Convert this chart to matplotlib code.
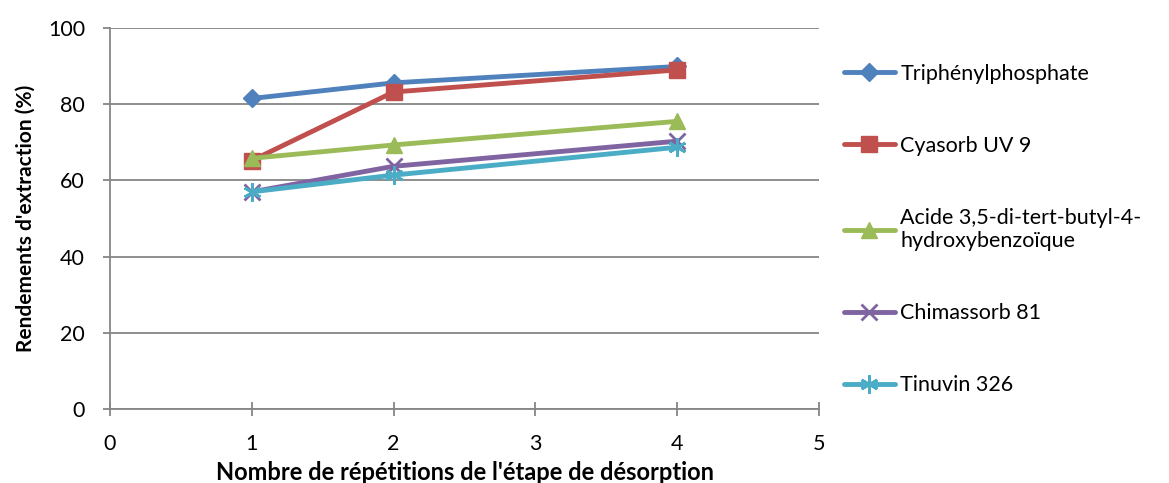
import matplotlib
matplotlib.use("Agg")
import matplotlib.pyplot as plt

plt.rcParams['font.family'] = ['Lato', 'DejaVu Sans']

repetitions = [1, 2, 4]
series_names = ["Triphénylphosphate", "Cyasorb UV 9",
                "Acide 3,5-di-tert-butyl-4-\nhydroxybenzoïque",
                "Chimassorb 81", "Tinuvin 326"]
triphenylphosphate = [81.5, 85.6, 89.9]
cyasorb = [65.2, 83.2, 89.0]
acide = [65.8, 69.3, 75.5]
chimassorb = [57.0, 63.7, 70.3]
tinuvin = [57.0, 61.4, 68.7]
x_ticks = [0, 1, 2, 3, 4, 5]
y_ticks = [0, 20, 40, 60, 80, 100]

values = [triphenylphosphate, cyasorb, acide, chimassorb, tinuvin]
colors = ['#4F81BD', '#C0504D', '#9BBB59', '#8064A2', '#4BACC6']
markers = ['D', 's', '^', 'x', (6, 2, 0)]
msizes = [9.5, 12, 12, 12, 13]
mews = [1, 1, 1, 2, 2]

FS = 15.5
fig = plt.figure(figsize=(11.69, 4.83), dpi=100)
ax = fig.add_axes([110/1169, 1-409/483, (819-110)/1169, (409-28)/483])

for name, vals, c, m, ms, mw in zip(series_names, values, colors, markers, msizes, mews):
    ax.plot(repetitions, vals, color=c, lw=3.5, marker=m, markersize=ms,
            markeredgewidth=mw, markeredgecolor=c, markerfacecolor=c,
            label=name, solid_capstyle='round')

ax.set_xlim(0, 5)
ax.set_ylim(0, 100)
ax.set_xticks(x_ticks)
ax.set_yticks(y_ticks)
grid_c = '#868686'
ax.yaxis.grid(True, color=grid_c, lw=1.3)
ax.set_axisbelow(True)
for s in ['top', 'right']:
    ax.spines[s].set_visible(False)
for s in ['left', 'bottom']:
    ax.spines[s].set_color(grid_c)
    ax.spines[s].set_linewidth(1.3)
ax.tick_params(axis='x', direction='inout', length=10, width=1.3, color=grid_c,
               labelsize=FS, pad=13, labelcolor='#000000')
ax.tick_params(axis='y', direction='out', length=5, width=1.3, color=grid_c,
               labelsize=FS, pad=13, labelcolor='#000000')

ax.set_xlabel("Nombre de répétitions de l'étape de désorption", fontsize=17,
              fontweight='bold', labelpad=5)
ax.set_ylabel("Rendements d'extraction (%)", fontsize=15, fontweight='bold',
              labelpad=9)

leg = ax.legend(loc='upper left', bbox_to_anchor=(835/1169, 1-55/483),
                bbox_transform=fig.transFigure, frameon=False,
                fontsize=FS, handlelength=2.4, handletextpad=0.23,
                labelspacing=2.42, borderaxespad=0)

fig.savefig("out.png", dpi=100)
